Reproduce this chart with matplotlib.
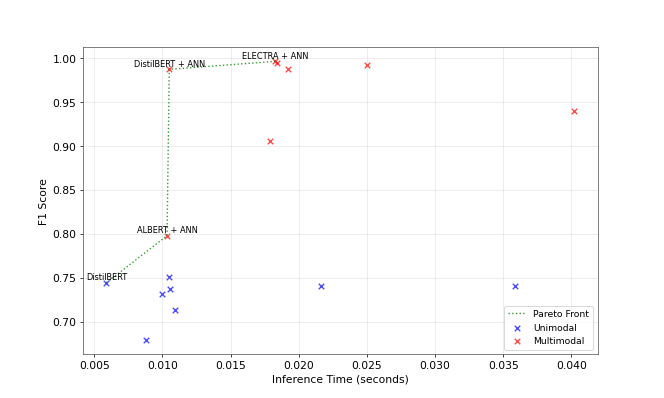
import matplotlib
matplotlib.use("Agg")
import matplotlib.pyplot as plt

# inference time (s) and F1 score
uni_time = [0.00589, 0.0105, 0.01059, 0.0100, 0.01095, 0.00883, 0.02163, 0.03583]
uni_f1 = [0.7443, 0.7507, 0.7367, 0.731, 0.7132, 0.6788, 0.7405, 0.7405]

multi_time = [0.0105, 0.01828, 0.01838, 0.01919, 0.0179, 0.01034, 0.0250, 0.0402]
multi_f1 = [0.9875, 0.9966, 0.9950, 0.9875, 0.9053, 0.798, 0.9924, 0.9398]

pareto_names = ["DistilBERT", "ALBERT + ANN", "DistilBERT + ANN", "ELECTRA + ANN"]
pareto_time = [0.00589, 0.01034, 0.0105, 0.01828]
pareto_f1 = [0.7443, 0.798, 0.9875, 0.9966]

fig, ax = plt.subplots(figsize=(10, 6), dpi=66.4)

ax.plot(pareto_time, pareto_f1, ":", color="green", alpha=0.8, label="Pareto Front")
ax.scatter(uni_time, uni_f1, marker="x", color="blue", alpha=0.7, label="Unimodal")
ax.scatter(multi_time, multi_f1, marker="x", color="red", alpha=0.7, label="Multimodal")

for name, t, f in zip(pareto_names, pareto_time, pareto_f1):
    ax.annotate(name, (t, f), textcoords="offset points", xytext=(0, 3),
                ha="center", fontsize=9)

ax.set_xlabel("Inference Time (seconds)", fontsize=11.6)
ax.set_ylabel("F1 Score", fontsize=11.6)
ax.tick_params(labelsize=11.6)
for s in ax.spines.values():
    s.set_color("#555555")
ax.grid(True, alpha=0.3)
ax.legend(loc="lower right", fontsize=10)

fig.savefig("out.png", dpi=66.4)
